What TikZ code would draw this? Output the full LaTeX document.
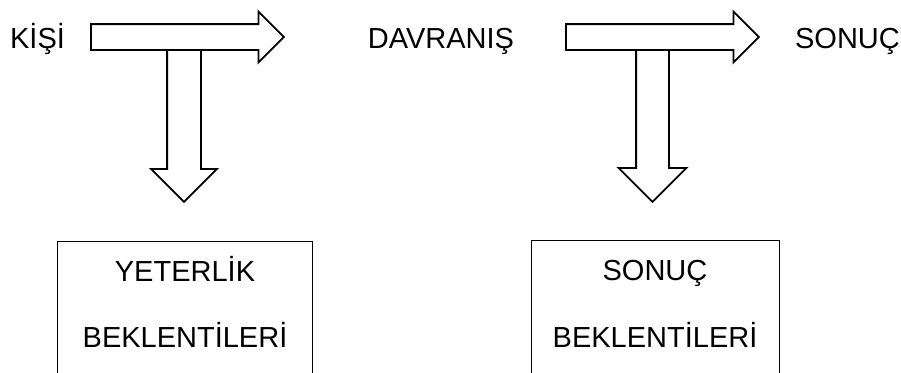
\documentclass[tikz,border=0pt]{standalone}
\usepackage{fontspec}
\setmainfont{Liberation Sans}
\usetikzlibrary{shapes.arrows, positioning}
\tikzset{
	line width = 1.5pt,
	font = \fontsize{29}{35}\selectfont,
	word/.style={
		inner sep=0pt,
		anchor=base
	},
	block arrow/.style={
		draw,
		single arrow,
		single arrow tip angle=90,
		single arrow head extend=#1,
		inner sep=0pt,
		anchor=tail,
		line width=1.8pt
	},
	expectation box/.style={
		draw,
		rectangle,
		anchor=north,
		inner sep=0pt,
		minimum height=150pt
	}
}

\begin{document}
\begin{tikzpicture}[x=1pt, y=-1pt]
\useasboundingbox (0,0) rectangle (901,372);
\clip (0,0) rectangle (901,372);

% ---
% Chain
% ---
\node[word] (kisi) at (37.5,48) {KİŞİ};
\node[word] (davranis) at (441,48) {DAVRANIŞ};
\node[word] (sonuc) at (847.5,48) {SONUÇ};

\foreach \i/\tail/\drop/\half/\ext in {1/90/184/16pt/16pt, 2/565/652.5/15.5pt/17.5pt} {
	\node[block arrow=12.5pt, inner ysep=12pt, minimum height=193pt] (right\i) at (\tail,37) {};
	\node[block arrow=\ext, inner ysep=\half, minimum height=152pt, rotate=-90] (down\i) at (\drop,49) {};
}

% ---
% Expectations
% ---
\node[expectation box, minimum width=255pt] (yeterlik) at (184.5,240.5) {};
\node[word] (yeterlik-1) at (185,281) {YETERLİK};
\node[word] (yeterlik-2) at (185,347) {BEKLENTİLERİ};

\node[expectation box, minimum width=248pt] (beklenti) at (655,240) {};
\node[word] (beklenti-1) at (655,280) {SONUÇ};
\node[word] (beklenti-2) at (655,347) {BEKLENTİLERİ};
\end{tikzpicture}
\end{document}
